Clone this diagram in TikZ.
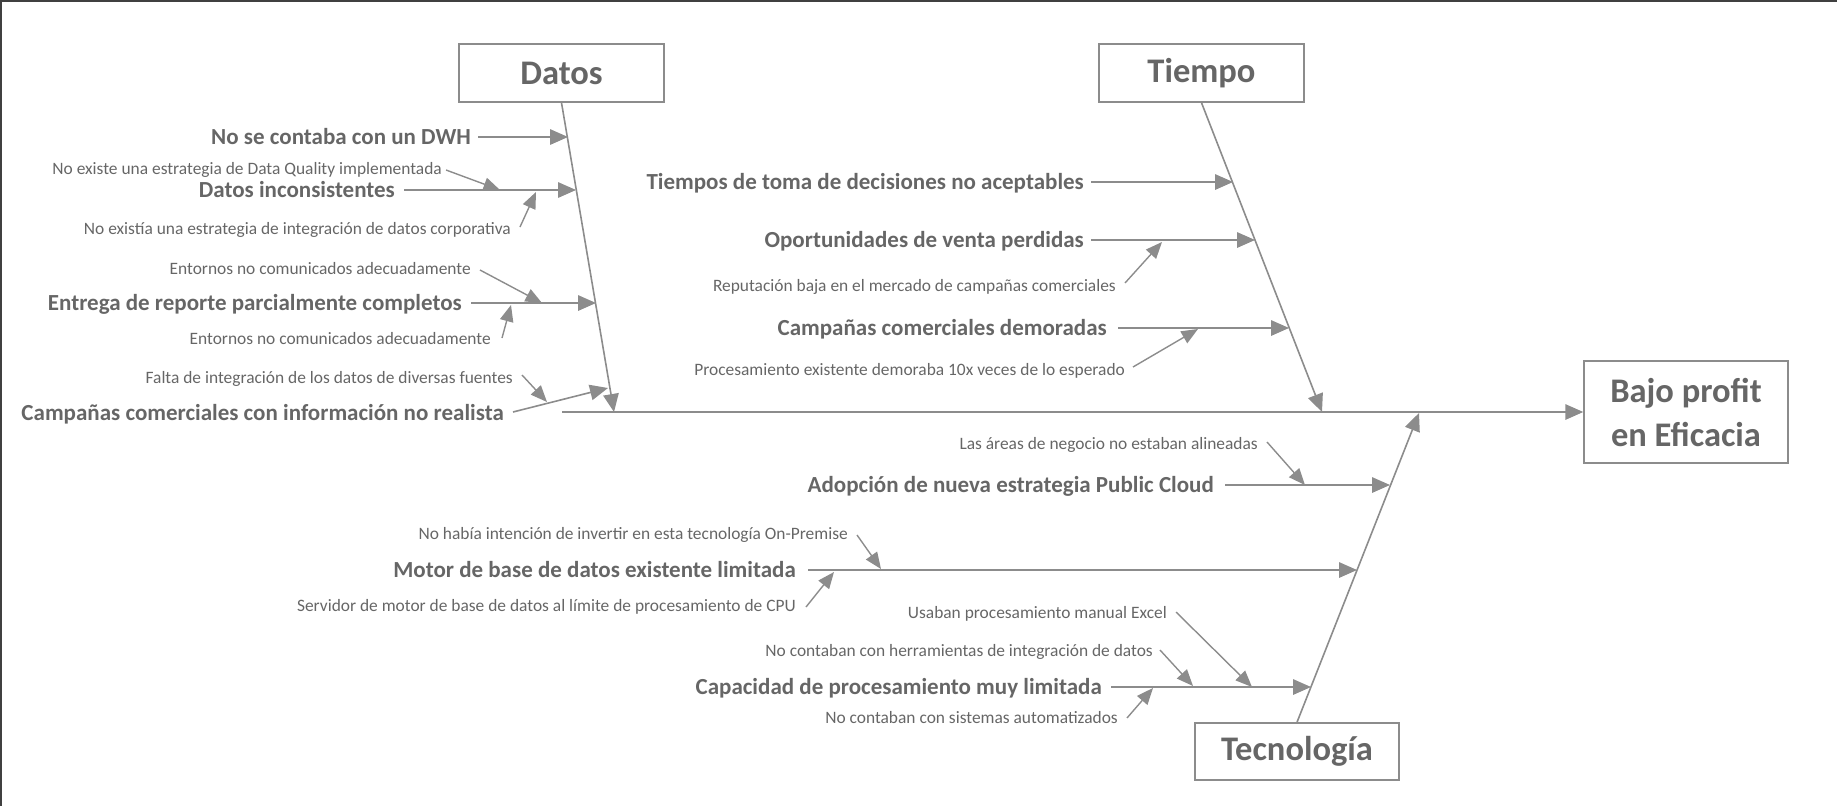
\documentclass[tikz,border=0pt]{standalone}
\usepackage{fontspec}
\setmainfont{Carlito}
\usetikzlibrary{arrows.meta}
\definecolor{txt}{HTML}{666666}
\definecolor{ln}{HTML}{8C8C8C}
\begin{document}
\begin{tikzpicture}[x=1pt,y=-1pt,
  rib/.style={font=\bfseries\fontsize{23}{26}\selectfont, text=txt, inner sep=0pt, anchor=base east},
  sub/.style={font=\fontsize{17.4}{20}\selectfont, text=txt, inner sep=0pt, anchor=base east},
  cat/.style={draw=ln, line width=1.5pt, fill=white, font=\bfseries\fontsize{34.5}{38}\selectfont, text=txt, minimum width=205pt, minimum height=58pt, inner sep=0pt, align=center},
  arr/.style={draw=ln, line width=1.6pt, -{Triangle[length=18pt,width=15.5pt]}},
  sarr/.style={draw=ln, line width=1.4pt, -{Triangle[length=16.5pt,width=13.5pt]}},
  spine/.style={draw=ln, line width=1.6pt}
]
\useasboundingbox (0,0) rectangle (1837,806);
\draw[line width=2pt, black!75] (1,806) -- (1,1) -- (1837,1);

% category boxes
\node[cat] (datos) at (561.5,73) {Datos};
\node[cat] (tiempo) at (1201.5,73) {Tiempo};
\node[cat, minimum height=57pt, minimum width=204pt] (tec) at (1297,751.5) {Tecnología};
\node[cat, minimum height=102pt, minimum width=204pt, font=\bfseries\fontsize{34.5}{44}\selectfont] (bajo) at (1686,412) {Bajo profit\\en Eficacia};

% main spine
\coordinate (mstart) at (562,412);
\draw[arr] (mstart) -- (bajo.west);

% bone spines
\coordinate (dtip) at (614,412);
\coordinate (ttip) at (1322,412);
\coordinate (ctip) at (1419,413);
\draw[arr] (datos.south) -- (dtip);
\draw[arr] (tiempo.south) -- (ttip);
\draw[arr] (tec.north) -- (ctip);

% ---------- Datos ----------
\node[rib] (d1) at (471,144) {No se contaba con un DWH};
\coordinate (d1s) at (478,137); \coordinate (d1e) at (568,137);
\draw[arr] (d1s) -- (d1e);

\node[rib] (d2) at (395,197) {Datos inconsistentes};
\coordinate (d2s) at (404,190); \coordinate (d2e) at (576,190);
\draw[arr] (d2s) -- (d2e);
\node[sub] (d21) at (442,174) {No existe una estrategia de Data Quality implementada};
\coordinate (d21s) at (446,170); \coordinate (d21e) at (500,190);
\draw[sarr] (d21s) -- (d21e);
\node[sub] (d22) at (511,234) {No existía una estrategia de integración de datos corporativa};
\coordinate (d22s) at (520,227); \coordinate (d22e) at (536,192);
\draw[sarr] (d22s) -- (d22e);

\node[rib] (d3) at (462,310) {Entrega de reporte parcialmente completos};
\coordinate (d3s) at (471,303); \coordinate (d3e) at (596,303);
\draw[arr] (d3s) -- (d3e);
\node[sub] (d31) at (471,274) {Entornos no comunicados adecuadamente};
\coordinate (d31s) at (480,270); \coordinate (d31e) at (542,303);
\draw[sarr] (d31s) -- (d31e);
\node[sub] (d32) at (491,344) {Entornos no comunicados adecuadamente};
\coordinate (d32s) at (502,338); \coordinate (d32e) at (511,305);
\draw[sarr] (d32s) -- (d32e);

\node[rib] (d4) at (504,420) {Campañas comerciales con información no realista};
\coordinate (d4s) at (513,412); \coordinate (d4e) at (608,388);
\draw[arr] (d4s) -- (d4e);
\node[sub] (d41) at (513,383) {Falta de integración de los datos de diversas fuentes};
\coordinate (d41s) at (522,375); \coordinate (d41e) at (547,402);
\draw[sarr] (d41s) -- (d41e);

% ---------- Tiempo ----------
\node[rib] (t1) at (1084,189) {Tiempos de toma de decisiones no aceptables};
\coordinate (t1s) at (1091,182); \coordinate (t1e) at (1233,182);
\draw[arr] (t1s) -- (t1e);

\node[rib] (t2) at (1084,247) {Oportunidades de venta perdidas};
\coordinate (t2s) at (1091,240); \coordinate (t2e) at (1255,240);
\draw[arr] (t2s) -- (t2e);
\node[sub] (t21) at (1116,291) {Reputación baja en el mercado de campañas comerciales};
\coordinate (t21s) at (1125,283); \coordinate (t21e) at (1162,242);
\draw[sarr] (t21s) -- (t21e);

\node[rib] (t3) at (1107,335) {Campañas comerciales demoradas};
\coordinate (t3s) at (1118,328); \coordinate (t3e) at (1289,328);
\draw[arr] (t3s) -- (t3e);
\node[sub] (t31) at (1125,375) {Procesamiento existente demoraba 10x veces de lo esperado};
\coordinate (t31s) at (1133,367); \coordinate (t31e) at (1198,329);
\draw[sarr] (t31s) -- (t31e);

% ---------- Tecnologia ----------
\node[rib] (c1) at (1214,492) {Adopción de nueva estrategia Public Cloud};
\coordinate (c1s) at (1225,485); \coordinate (c1e) at (1390,485);
\draw[arr] (c1s) -- (c1e);
\node[sub] (c11) at (1258,449) {Las áreas de negocio no estaban alineadas};
\coordinate (c11s) at (1267,442); \coordinate (c11e) at (1305,485);
\draw[sarr] (c11s) -- (c11e);

\node[rib] (c2) at (796,577) {Motor de base de datos existente limitada};
\coordinate (c2s) at (808,570); \coordinate (c2e) at (1357,570);
\draw[arr] (c2s) -- (c2e);
\node[sub] (c21) at (848,539) {No había intención de invertir en esta tecnología On-Premise};
\coordinate (c21s) at (857,535); \coordinate (c21e) at (881,569);
\draw[sarr] (c21s) -- (c21e);
\node[sub] (c22) at (796,611) {Servidor de motor de base de datos al límite de procesamiento de CPU};
\coordinate (c22s) at (806,607); \coordinate (c22e) at (834,572);
\draw[sarr] (c22s) -- (c22e);

\node[rib] (c3) at (1102,694) {Capacidad de procesamiento muy limitada};
\coordinate (c3s) at (1111,687); \coordinate (c3e) at (1311,687);
\draw[arr] (c3s) -- (c3e);
\node[sub] (c31) at (1167,618) {Usaban procesamiento manual Excel};
\coordinate (c31s) at (1176,612); \coordinate (c31e) at (1252,687);
\draw[sarr] (c31s) -- (c31e);
\node[sub] (c32) at (1153,656) {No contaban con herramientas de integración de datos};
\coordinate (c32s) at (1160,650); \coordinate (c32e) at (1193,686);
\draw[sarr] (c32s) -- (c32e);
\node[sub] (c33) at (1118,723) {No contaban con sistemas automatizados};
\coordinate (c33s) at (1127,718); \coordinate (c33e) at (1153,688);
\draw[sarr] (c33s) -- (c33e);
\end{tikzpicture}
\end{document}
